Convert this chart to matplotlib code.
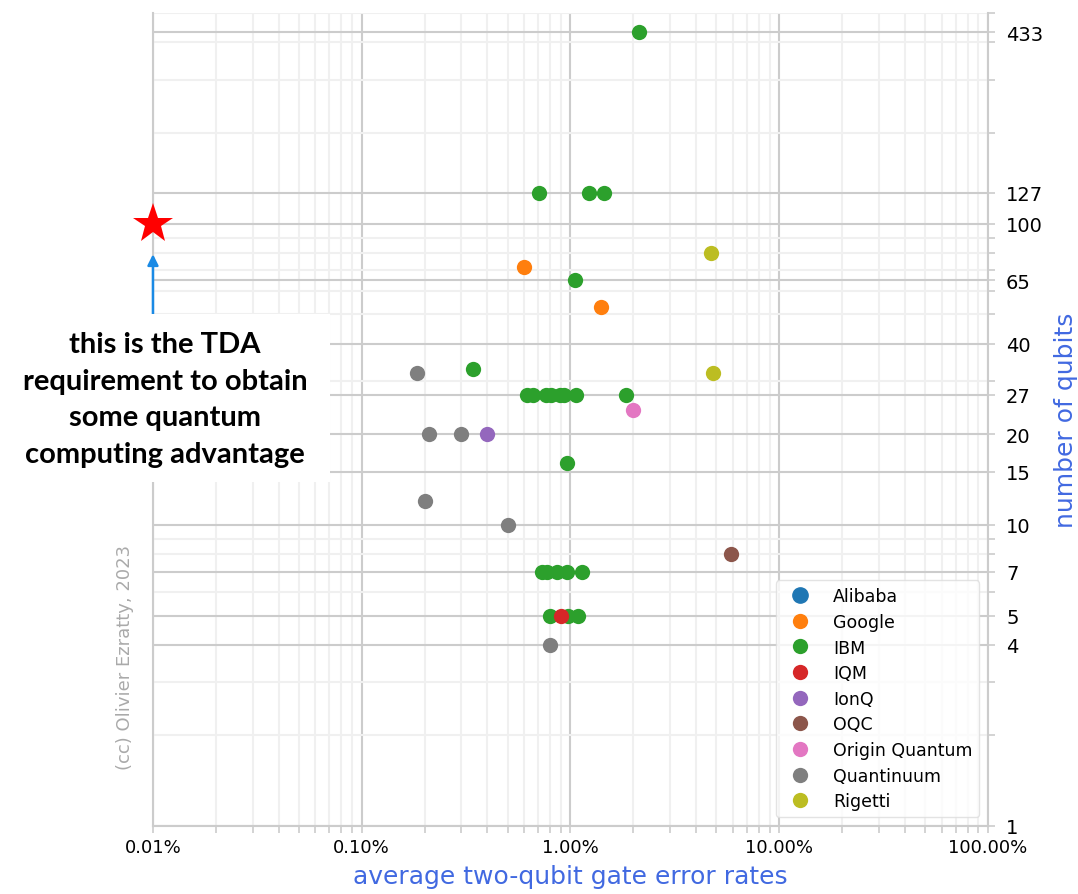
import matplotlib
matplotlib.use("Agg")
import matplotlib.pyplot as plt
import matplotlib.ticker as mticker
from matplotlib.patches import Rectangle

plt.rcParams["font.family"] = ["DejaVu Sans"]

# error rates in %, qubit counts
vendors = ["Alibaba", "Google", "IBM", "IQM", "IonQ", "OQC",
           "Origin Quantum", "Quantinuum", "Rigetti"]
colors = ["tab:blue", "tab:orange", "tab:green", "tab:red", "tab:purple",
          "tab:brown", "tab:pink", "tab:gray", "tab:olive"]

alibaba_err = []
alibaba_qb = []
google_err = [0.60, 1.40]
google_qb = [72, 53]
ibm_err = [2.13, 0.71, 1.23, 1.45, 1.05, 0.34,
           0.62, 0.66, 0.76, 0.81, 0.89, 0.93, 1.06, 1.85,
           0.96, 0.73, 0.77, 0.86, 0.96, 1.13, 0.80, 0.97, 1.09]
ibm_qb = [433, 127, 127, 127, 65, 33,
          27, 27, 27, 27, 27, 27, 27, 27,
          16, 7, 7, 7, 7, 7, 5, 5, 5]
iqm_err = [0.90]
iqm_qb = [5]
ionq_err = [0.40]
ionq_qb = [20]
oqc_err = [5.87]
oqc_qb = [8]
origin_err = [1.99]
origin_qb = [24]
quantinuum_err = [0.184, 0.21, 0.30, 0.20, 0.50, 0.80]
quantinuum_qb = [32, 20, 20, 12, 10, 4]
rigetti_err = [4.71, 4.81]
rigetti_qb = [80, 32]

series = [(alibaba_err, alibaba_qb), (google_err, google_qb), (ibm_err, ibm_qb),
          (iqm_err, iqm_qb), (ionq_err, ionq_qb), (oqc_err, oqc_qb),
          (origin_err, origin_qb), (quantinuum_err, quantinuum_qb),
          (rigetti_err, rigetti_qb)]

qubit_ticks = [1, 4, 5, 7, 10, 15, 20, 27, 40, 65, 100, 127, 433]
target_qb = 100
target_err = 0.01

fig = plt.figure(figsize=(10.78, 8.95), dpi=100)
ax = fig.add_axes([0.1419, 0.076, 0.7746, 0.908])

for name, col, (xs, ys) in zip(vendors, colors, series):
    if len(xs) == 0:
        ax.plot([], [], "o", color=col, ms=11, label=name)
    else:
        ax.plot(xs, ys, "o", color=col, ms=11, mew=0, label=name, zorder=3)

ax.set_xscale("log")
ax.set_yscale("log")
ax.set_xlim(0.01, 100)
ax.set_ylim(1, 500)

ax.xaxis.set_major_locator(mticker.LogLocator(base=10))
ax.xaxis.set_minor_locator(mticker.LogLocator(base=10, subs=range(2, 10)))
ax.xaxis.set_major_formatter(mticker.FuncFormatter(lambda v, p: f"{v:.2f}%"))
ax.xaxis.set_minor_formatter(mticker.NullFormatter())

ax.yaxis.tick_right()
ax.yaxis.set_label_position("right")
ax.yaxis.set_major_locator(mticker.FixedLocator(qubit_ticks))
ax.yaxis.set_minor_locator(mticker.LogLocator(base=10, subs=range(2, 10)))
ax.yaxis.set_major_formatter(mticker.FuncFormatter(lambda v, p: f"{v:g}"))
ax.yaxis.set_minor_formatter(mticker.NullFormatter())

ax.grid(which="major", color="#cccccc", lw=1.5)
ax.grid(which="minor", color="#f0f0f0", lw=1.5)
ax.set_axisbelow(True)

for s in ["left", "bottom", "right"]:
    ax.spines[s].set_color("#cccccc")
    ax.spines[s].set_linewidth(1.5)
ax.spines["top"].set_visible(False)

ax.tick_params(axis="both", which="both", color="#cccccc", width=1.2, length=5)
ax.tick_params(axis="x", labelsize=13)
ax.tick_params(axis="y", labelsize=14, pad=8)

ax.set_xlabel("average two-qubit gate error rates", fontsize=18, color="royalblue",
              labelpad=6)
ax.set_ylabel("number of qubits", fontsize=18, color="royalblue", labelpad=8)

leg = ax.legend(loc="lower right", fontsize=12.5, frameon=True, handletextpad=0.9,
                borderpad=0.4, labelspacing=0.44)
leg.get_frame().set_edgecolor("#dddddd")

# TDA requirement: star + arrow
ax.plot([target_err], [target_qb], "*", color="red", ms=30, mew=0,
        clip_on=False, zorder=5)
ax.annotate("", xy=(0.0, 0.707), xytext=(0.0, 0.55), xycoords="axes fraction",
            arrowprops=dict(arrowstyle="-|>", color="#1a8ae5", lw=1.8,
                            mutation_scale=16))

fig.add_artist(Rectangle((0.0, 0.46), 0.306, 0.188, transform=fig.transFigure,
                         facecolor="white", edgecolor="none", zorder=5))
fig.text(0.153, 0.553, "this is the TDA\nrequirement to obtain\nsome quantum\ncomputing advantage",
         ha="center", va="center", fontsize=21, fontweight="bold",
         family=["Lato", "DejaVu Sans"], linespacing=1.5, zorder=6)

fig.text(0.116, 0.265, "(cc) Olivier Ezratty, 2023", rotation=90, color="#aaaaaa",
         fontsize=13, ha="center", va="center")

fig.savefig("out.png", dpi=100)
